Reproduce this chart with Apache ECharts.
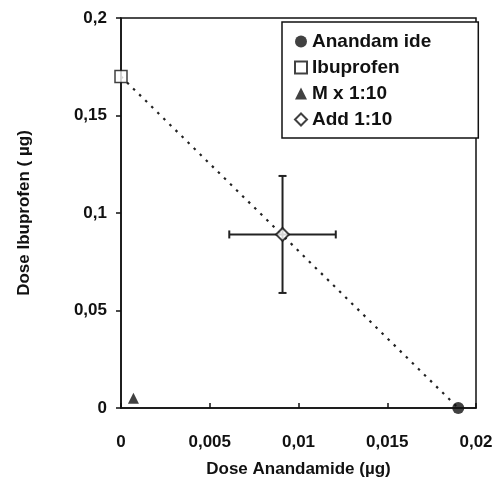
<!DOCTYPE html>
<html>
<head>
<meta charset="utf-8">
<script src="https://cdn.jsdelivr.net/npm/echarts@6/dist/echarts.min.js"></script>
<style>
  html, body { margin: 0; padding: 0; background: #fff; }
  #chart { width: 500px; height: 496px; }
</style>
</head>
<body>
<div id="chart"></div>
<script>
// points: [dose anandamide, dose ibuprofen]
var anandamide = [[0.019, 0]];
var ibuprofen = [[0, 0.17]];
var mix = [[0.0007, 0.005]];
var add = [[0.0091, 0.089]];
// error bars of the additive point: [x, y, xErr, yErr]
var addErr = [[0.0091, 0.089, 0.003, 0.03]];
// additivity line
var additiveLine = [[0, 0.17], [0.019, 0]];

var fontFam = '"Liberation Sans", Arial, sans-serif';
function comma(v) { return String(v).replace('.', ','); }

var myChart = echarts.init(document.getElementById('chart'));

var option = {
    animation: false,
    grid: {
        left: 121, right: 24, top: 18, bottom: 88,
        show: true, borderColor: '#111', borderWidth: 1.5
    },
    legend: {
        orient: 'vertical',
        left: 282, top: 22,
        padding: [10, 47, 9, 12],
        itemGap: 7,
        itemWidth: 12, itemHeight: 12,
        borderColor: '#111', borderWidth: 1.5,
        backgroundColor: '#fff',
        textStyle: { fontFamily: fontFam, fontWeight: 'bold', fontSize: 19, color: '#111' },
        data: ['Anandam ide', 'Ibuprofen', 'M x 1:10', 'Add 1:10']
    },
    xAxis: {
        type: 'value', min: 0, max: 0.02, interval: 0.005,
        name: 'Dose Anandamide (µg)', nameLocation: 'middle', nameGap: 53,
        nameTextStyle: { fontFamily: fontFam, fontWeight: 'bold', fontSize: 17, color: '#111' },
        axisLine: { lineStyle: { color: '#111', width: 1.5 } },
        axisTick: { inside: true, length: 5, lineStyle: { color: '#111', width: 1.5 } },
        splitLine: { show: false },
        axisLabel: { formatter: comma, margin: 26, fontFamily: fontFam, fontWeight: 'bold', fontSize: 17, color: '#111' }
    },
    yAxis: {
        type: 'value', min: 0, max: 0.2, interval: 0.05,
        name: 'Dose Ibuprofen ( µg)', nameLocation: 'middle', nameGap: 88,
        nameTextStyle: { fontFamily: fontFam, fontWeight: 'bold', fontSize: 17, color: '#111' },
        axisLine: { lineStyle: { color: '#111', width: 1.5 } },
        axisTick: { length: 5, lineStyle: { color: '#111', width: 1.5 } },
        splitLine: { show: false },
        axisLabel: { formatter: comma, margin: 14, fontFamily: fontFam, fontWeight: 'bold', fontSize: 17, color: '#111' }
    },
    series: [
        {
            type: 'line', data: additiveLine, symbol: 'none', silent: true,
            lineStyle: { color: '#222', width: 2.2, type: [2.5, 6] }, z: 1
        },
        {
            type: 'custom', data: addErr, silent: true, z: 2,
            renderItem: function (params, api) {
                var x = api.value(0), y = api.value(1), ex = api.value(2), ey = api.value(3);
                var l = api.coord([x - ex, y]), r = api.coord([x + ex, y]);
                var t = api.coord([x, y + ey]), b = api.coord([x, y - ey]);
                var st = { stroke: '#222', lineWidth: 2 };
                var cap = 4;
                return {
                    type: 'group', children: [
                        { type: 'line', shape: { x1: l[0], y1: l[1], x2: r[0], y2: r[1] }, style: st },
                        { type: 'line', shape: { x1: t[0], y1: t[1], x2: b[0], y2: b[1] }, style: st },
                        { type: 'line', shape: { x1: l[0], y1: l[1] - cap, x2: l[0], y2: l[1] + cap }, style: st },
                        { type: 'line', shape: { x1: r[0], y1: r[1] - cap, x2: r[0], y2: r[1] + cap }, style: st },
                        { type: 'line', shape: { x1: t[0] - cap, y1: t[1], x2: t[0] + cap, y2: t[1] }, style: st },
                        { type: 'line', shape: { x1: b[0] - cap, y1: b[1], x2: b[0] + cap, y2: b[1] }, style: st }
                    ]
                };
            }
        },
        {
            name: 'Anandam ide', type: 'scatter', data: anandamide, symbol: 'circle', symbolSize: 12, z: 3,
            itemStyle: { color: '#111' }
        },
        {
            name: 'Ibuprofen', type: 'scatter', data: ibuprofen, symbol: 'rect', symbolSize: 12, z: 3,
            itemStyle: { color: '#fff', borderColor: '#111', borderWidth: 1.5 }
        },
        {
            name: 'M x 1:10', type: 'scatter', data: mix, symbol: 'triangle', symbolSize: 11, z: 3,
            itemStyle: { color: '#111' }
        },
        {
            name: 'Add 1:10', type: 'scatter', data: add, symbol: 'diamond', symbolSize: 13, z: 3,
            itemStyle: { color: '#fff', borderColor: '#111', borderWidth: 2 }
        }
    ]
};

myChart.setOption(option);
</script>
</body>
</html>
